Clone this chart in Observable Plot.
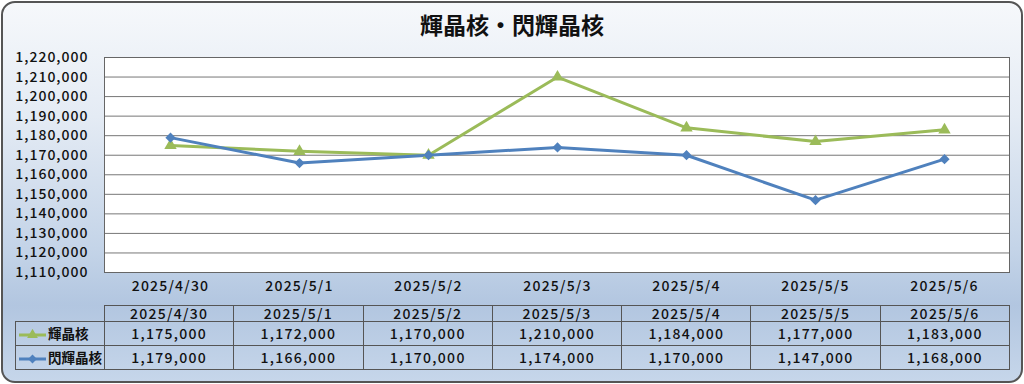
<!DOCTYPE html>
<html><head><meta charset="utf-8">
<script src="https://cdn.jsdelivr.net/npm/d3@7"></script>
<script src="https://cdn.jsdelivr.net/npm/@observablehq/plot@0.6"></script>
<style>
html,body{margin:0;padding:0;}
body{width:1024px;height:384px;overflow:hidden;position:relative;font-family:"Noto Sans CJK JP","Noto Sans",sans-serif;color:#111;}
#card{position:absolute;left:1px;top:1px;width:1018px;height:378px;border:2px solid #555;border-radius:14px;
  background:linear-gradient(to bottom,#f6f8fb 0%,#e4ebf4 30%,#c4d4e8 65%,#b2c6e0 80%,#c6d6ea 100%);}
#title{position:absolute;left:0;top:6px;width:1024px;text-align:center;font-weight:bold;font-size:23px;line-height:36px;color:#111;}
#plot{position:absolute;left:0;top:40px;}
#plot g[aria-label="y-axis tick label"] text{letter-spacing:1px;}
#plot g[aria-label="x-axis tick label"] text{letter-spacing:1.2px;}
#tbl{position:absolute;left:15px;top:305px;border-collapse:collapse;table-layout:fixed;font-size:14px;letter-spacing:1.3px;font-weight:500;}
#tbl td{border:1px solid #555;text-align:center;padding:0;white-space:nowrap;}
#tbl tr.h td{height:15px;line-height:15px;}
#tbl tr.d td{height:23px;line-height:23px;}
#tbl td.blank{border:none;}
#tbl td.leg{text-align:left;font-weight:bold;letter-spacing:0;font-size:13.5px;}
#tbl td.leg svg{vertical-align:middle;margin:0 1px 0 2px;}
</style></head>
<body>
<div id="card"></div>
<div id="title"></div>
<div id="plot"></div>
<table id="tbl"></table>
<script>
const chartTitle = "輝晶核・閃輝晶核";
const dates = ["2025/4/30","2025/5/1","2025/5/2","2025/5/3","2025/5/4","2025/5/5","2025/5/6"];
const seriesNames = ["輝晶核","閃輝晶核"];
const kishoukaku = [1175000,1172000,1170000,1210000,1184000,1177000,1183000];
const senkishoukaku = [1179000,1166000,1170000,1174000,1170000,1147000,1168000];
const yTicks = [1110000,1120000,1130000,1140000,1150000,1160000,1170000,1180000,1190000,1200000,1210000,1220000];
const seriesColors = ["#9bbb59","#4f81bd"];
const seriesSymbols = ["triangle","diamond2"];

const values = [kishoukaku, senkishoukaku];
const fmt = d3.format(",");
const data = seriesNames.flatMap((s, k) => dates.map((d, i) => ({series: s, date: d, value: values[k][i]})));

document.getElementById("title").textContent = chartTitle;

const chart = Plot.plot({
  width: 1024, height: 258,
  marginLeft: 104, marginRight: 15, marginTop: 17, marginBottom: 26,
  style: {background: "transparent", fontFamily: "'Noto Sans CJK JP', sans-serif", fontSize: "14px", fontWeight: 500, color: "#111", overflow: "visible"},
  x: {type: "point", domain: dates, padding: 0.5, label: null},
  y: {domain: [yTicks[0], yTicks[yTicks.length - 1]], label: null},
  color: {domain: seriesNames, range: seriesColors},
  symbol: {domain: seriesNames, range: seriesSymbols},
  marks: [
    Plot.frame({fill: "white", stroke: null}),
    Plot.gridY(yTicks, {stroke: "#777", strokeOpacity: 1, strokeWidth: 1}),
    Plot.frame({stroke: "#666", strokeWidth: 1}),
    Plot.axisY(yTicks, {tickSize: 0, tickPadding: 16, tickFormat: fmt, fontSize: 14, label: null}),
    Plot.axisX(dates, {tickSize: 0, tickPadding: 9, fontSize: 14, label: null}),
    Plot.line(data, {x: "date", y: "value", z: "series", stroke: "series", strokeWidth: 3}),
    Plot.dot(data, {x: "date", y: "value", fill: "series", symbol: "series", r: 4.6, stroke: null})
  ]
});
document.getElementById("plot").appendChild(chart);

// data table below the chart
const tbl = document.getElementById("tbl");
const colgroup = document.createElement("colgroup");
const c0 = document.createElement("col"); c0.style.width = "89px"; colgroup.appendChild(c0);
dates.forEach(() => { const c = document.createElement("col"); c.style.width = "129.3px"; colgroup.appendChild(c); });
tbl.appendChild(colgroup);
const hr = document.createElement("tr"); hr.className = "h";
const blank = document.createElement("td"); blank.className = "blank"; hr.appendChild(blank);
dates.forEach(d => { const td = document.createElement("td"); td.textContent = d; hr.appendChild(td); });
tbl.appendChild(hr);
seriesNames.forEach((s, k) => {
  const tr = document.createElement("tr"); tr.className = "d";
  const lg = document.createElement("td"); lg.className = "leg";
  const svg = d3.create("svg").attr("width", 29).attr("height", 12);
  svg.append("line").attr("x1", 1).attr("x2", 28).attr("y1", 6).attr("y2", 6).attr("stroke", seriesColors[k]).attr("stroke-width", 3);
  const sym = k === 0 ? d3.symbolTriangle : d3.symbolDiamond2;
  svg.append("path").attr("d", d3.symbol(sym, 50)()).attr("transform", "translate(14.5,6)").attr("fill", seriesColors[k]);
  lg.appendChild(svg.node());
  lg.appendChild(document.createTextNode(s));
  tr.appendChild(lg);
  values[k].forEach(v => { const td = document.createElement("td"); td.textContent = fmt(v); tr.appendChild(td); });
  tbl.appendChild(tr);
});
</script>
</body></html>
